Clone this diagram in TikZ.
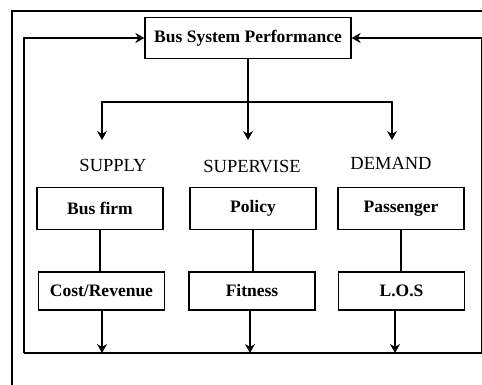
\documentclass[tikz,border=0pt]{standalone}
\usepackage{fontspec}
\setmainfont{Liberation Serif}
\usetikzlibrary{arrows.meta,positioning,calc}

\begin{document}
\begin{tikzpicture}[
  x=1pt, y=-1pt,
  mainbox/.style={rectangle, draw, line width=1.3pt, minimum width=206pt,
                  minimum height=41pt, font=\fontsize{17.5}{20}\selectfont\bfseries,
                  inner sep=2pt},
  unitbox/.style={rectangle, draw, line width=1.3pt, minimum width=126pt,
                  minimum height=42pt, font=\fontsize{17.5}{20}\selectfont\bfseries,
                  inner sep=2pt},
  unitlow/.style={unitbox, minimum height=38pt},
  sidelabel/.style={font=\fontsize{18.5}{21}\selectfont, inner sep=1pt},
  frame/.style={draw, line width=1.4pt},
  link/.style={draw, line width=1.1pt},
  flow/.style={draw, line width=1.1pt, -{Stealth[length=9pt, width=10pt, inset=3pt]}},
]
  \clip (0,0) rectangle (482,384);
  \fill[white] (0,0) rectangle (482,384);

  % ===== Outer frame (runs off the page) =====
  \draw[frame] (12,400) -- (12,11) -- (500,11);

  % ===== Top: overall performance =====
  \node[mainbox] (perf) at (248,38) {Bus System Performance};

  % ===== Column headers =====
  \node[sidelabel] (supply)    at (113,165) {SUPPLY};
  \node[sidelabel] (supervise) at (252,167) {SUPERVISE};
  \node[sidelabel] (demand)    at (391,163) {DEMAND};

  % ===== Actors =====
  \node[unitbox] (firm)      at (100,208.5) {Bus firm};
  \node[unitbox] (policy)    at (253,208.5) {Policy};
  \node[unitbox] (passenger) at (401,208.5) {Passenger};

  % ===== Measures =====
  \node[unitlow] (cost)    at (101.5,291) {Cost/Revenue};
  \node[unitlow] (fitness) at (252,291)   {Fitness};
  \node[unitlow] (los)     at (401.5,291) {L.O.S};

  % ===== Fork from performance to the three sides =====
  \coordinate (fork)  at (248,102);
  \coordinate (inS)   at (102,140);
  \coordinate (inV)   at (248,140);
  \coordinate (inD)   at (392,140);
  \draw[link] (perf.south) -- (fork);
  \draw[link] (inS |- fork) -- (inD |- fork);
  \draw[flow] (fork) -| (inS);
  \draw[flow] (fork) -- (inV);
  \draw[flow] (fork) -| (inD);

  % ===== Actor -> measure =====
  \draw[link] (firm.south) -- (firm.south |- cost.north);
  \draw[link] (policy.south) -- (policy.south |- fitness.north);
  \draw[link] (passenger.south) -- (passenger.south |- los.north);

  % ===== Feedback loop =====
  \coordinate (loopL) at (24,353);
  \coordinate (loopR) at (482,353);
  \coordinate (outS)  at (102,353);
  \coordinate (outV)  at (250,353);
  \coordinate (outD)  at (395,353);
  \draw[flow] (cost.south -| outS) -- (outS);
  \draw[flow] (fitness.south -| outV) -- (outV);
  \draw[flow] (los.south -| outD) -- (outD);
  \draw[link] (loopL) -- (loopR);
  \draw[flow] (loopL) |- (perf.west);
  \draw[flow] (loopR) |- (perf.east);

\end{tikzpicture}
\end{document}
